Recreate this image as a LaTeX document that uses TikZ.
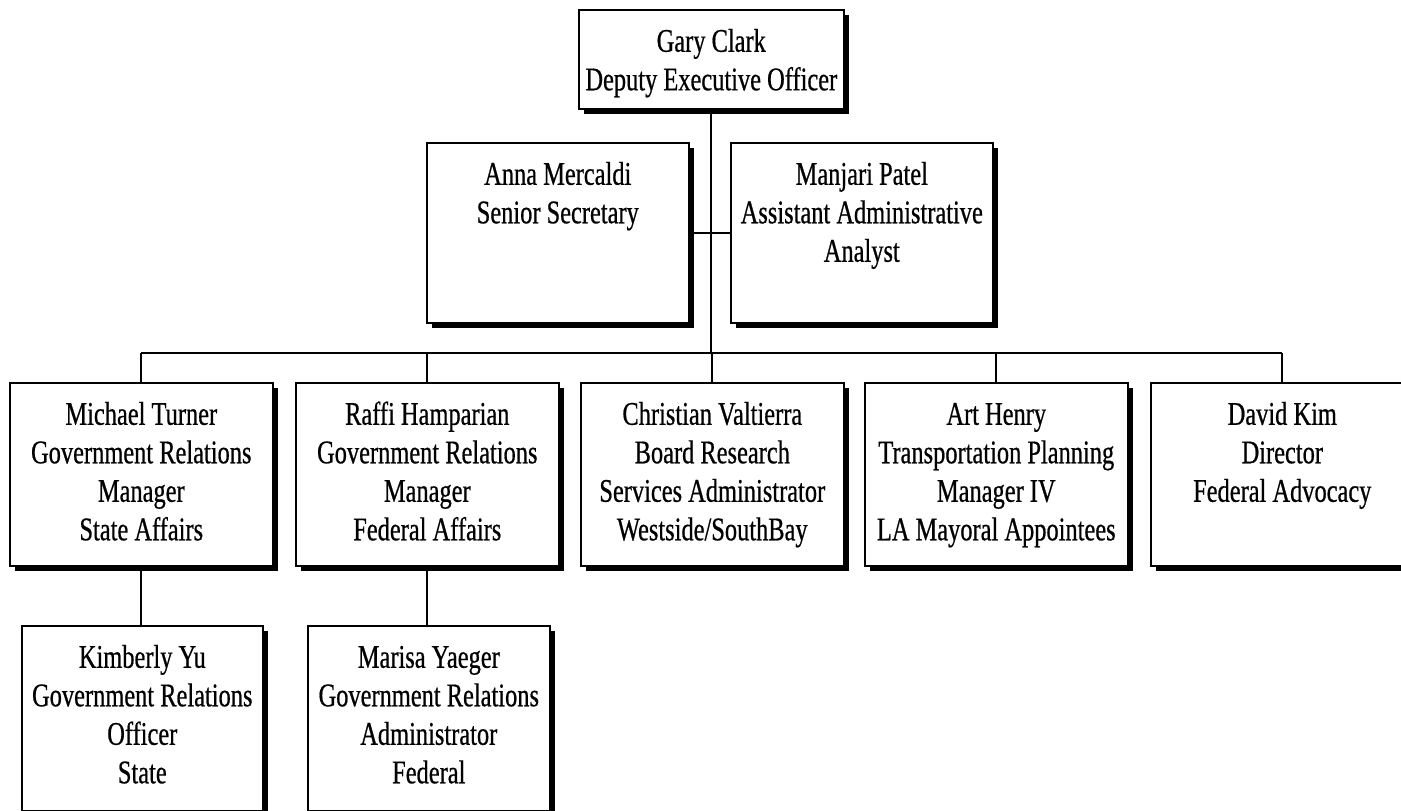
\documentclass[tikz,border=0pt]{standalone}
\usepackage{fontspec}
\setmainfont[FakeStretch=0.74,FakeBold=0.6]{Liberation Serif}
\usetikzlibrary{shadows}
\tikzset{
  orgbox/.style={draw=black, line width=1.6pt, fill=white, inner sep=0pt, anchor=north west,
    drop shadow={shadow xshift=5pt, shadow yshift=-5.5pt, fill=black, opacity=1}},
  conn/.style={draw=black, line width=1.8pt}
}
\newcommand{\orgtext}[3]{\parbox[t][#2][t]{#1}{\centering\fontsize{33}{38.5}\selectfont\vspace*{15pt}\strut #3\par}}
\begin{document}
\begin{tikzpicture}[x=1pt,y=-1pt]
\useasboundingbox (0,0) rectangle (1401,811);
\clip (0,0) rectangle (1401,811);
% top
\node[orgbox] (gc) at (578,9) {\orgtext{265pt}{99pt}{Gary Clark\\Deputy Executive Officer}};
% staff
\node[orgbox] (am) at (426,142) {\orgtext{262pt}{180pt}{Anna Mercaldi\\Senior Secretary}};
\node[orgbox] (mp) at (730,142) {\orgtext{262pt}{180pt}{Manjari Patel\\Assistant Administrative\\Analyst}};
% row 3
\node[orgbox] (mt) at (9,382) {\orgtext{263pt}{183pt}{Michael Turner\\Government Relations\\Manager\\State Affairs}};
\node[orgbox] (rh) at (295,382) {\orgtext{263pt}{183pt}{Raffi Hamparian\\Government Relations\\Manager\\Federal Affairs}};
\node[orgbox] (cv) at (580,382) {\orgtext{263pt}{183pt}{Christian Valtierra\\Board Research\\Services Administrator\\Westside/SouthBay}};
\node[orgbox] (ah) at (864,382) {\orgtext{263pt}{183pt}{Art Henry\\Transportation Planning\\Manager IV\\LA Mayoral Appointees}};
\node[orgbox] (dk) at (1150,382) {\orgtext{263pt}{183pt}{David Kim\\Director\\Federal Advocacy}};
% row 4
\node[orgbox] (ky) at (21,625) {\orgtext{241pt}{185pt}{Kimberly Yu\\Government Relations\\Officer\\State}};
\node[orgbox] (my) at (307,625) {\orgtext{242pt}{185pt}{Marisa Yaeger\\Government Relations\\Administrator\\Federal}};
% connectors
\coordinate (bus) at (711,353);
\draw[conn] (gc.south) -- (gc.south |- bus);
\draw[conn] (am.east) -- (mp.west);
\draw[conn] (mt.north |- bus) -- (dk.north |- bus);
\foreach \n in {mt,rh,cv,ah,dk} {\draw[conn] (\n.north) -- (\n.north |- bus);}
\draw[conn] (mt.south) -- (mt.south |- ky.north);
\draw[conn] (rh.south) -- (rh.south |- my.north);
\end{tikzpicture}
\end{document}
